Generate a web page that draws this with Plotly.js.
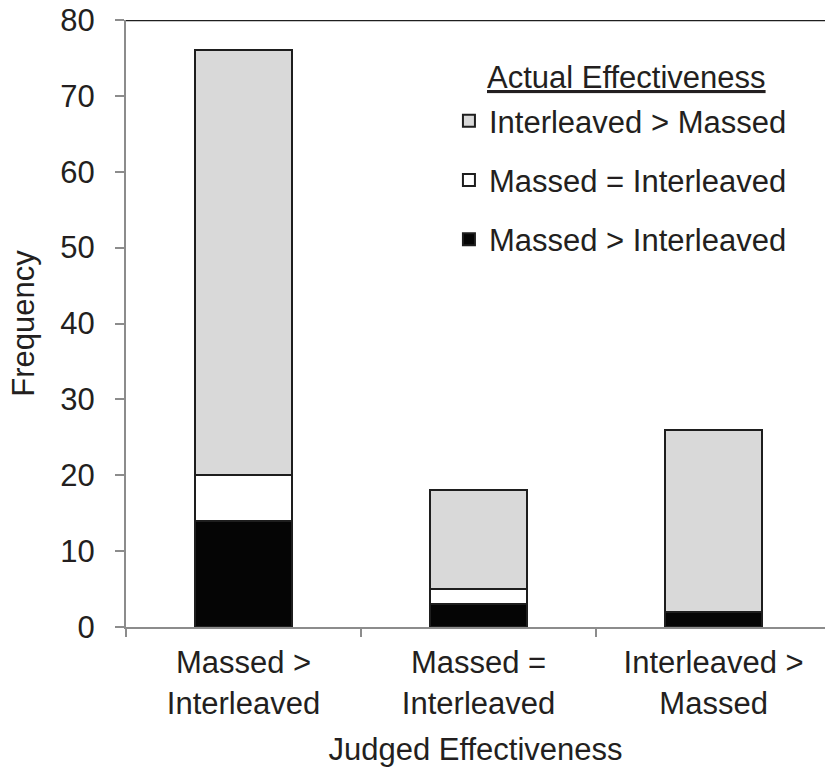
<!DOCTYPE html>
<html>
<head>
<meta charset="utf-8">
<script src="https://cdn.plot.ly/plotly-3.0.1.min.js"></script>
<style>html,body{margin:0;padding:0;background:#fff;}#chart{width:825px;height:767px;}</style>
</head>
<body>
<div id="chart"></div>
<script>
var categories = ['Massed ><br>Interleaved', 'Massed =<br>Interleaved', 'Interleaved ><br>Massed'];
var seriesNames = ['Massed > Interleaved', 'Massed = Interleaved', 'Interleaved > Massed'];
var legendTitle = 'Actual Effectiveness';
var massedBetter = [14, 3, 2];
var equalEff = [6, 2, 0];
var interleavedBetter = [56, 13, 24];
var yTicks = [0, 10, 20, 30, 40, 50, 60, 70, 80];

var FONT = 'Liberation Sans, Arial, Helvetica, sans-serif';
var FS = 31;
var TXT = '#231f20';
var lineCol = '#1e1e1e';

function bar(name, vals, fill, group, rank) {
  return {
    type: 'bar', name: name, x: categories, y: vals,
    legendgroup: group, legendrank: rank,
    marker: {color: fill, line: {color: lineCol, width: 2}},
    hoverinfo: 'skip'
  };
}

var data = [
  bar(seriesNames[0], massedBetter, '#050505', 'a', 3),
  bar(seriesNames[1], equalEff, '#ffffff', 'b', 2),
  bar(seriesNames[2], interleavedBetter, '#d9d9d9', 'c', 1)
];

var layout = {
  width: 825, height: 767,
  margin: {l: 126, r: 0, t: 20, b: 140},
  paper_bgcolor: '#fff', plot_bgcolor: '#fff',
  font: {family: FONT, size: FS, color: TXT},
  barmode: 'stack',
  bargap: 0.59,
  showlegend: true,
  legend: {
    x: 0.462, y: 0.878, xanchor: 'left', yanchor: 'top',
    traceorder: 'grouped',
    tracegroupgap: 16,
    bgcolor: 'rgba(0,0,0,0)',
    font: {family: FONT, size: FS, color: TXT}
  },
  annotations: [{
    text: '<u>' + legendTitle + '</u>', xref: 'paper', yref: 'paper',
    x: 0.716, y: 0.906, xanchor: 'center', yanchor: 'middle', showarrow: false,
    font: {family: FONT, size: FS, color: TXT}
  }],
  xaxis: {
    type: 'category',
    range: [-0.5, 2.474],
    showline: true, linecolor: '#8c8c8c', linewidth: 2,
    ticks: 'outside', tickson: 'boundaries', ticklen: 8, tickwidth: 2, tickcolor: '#8c8c8c',
    ticklabelstandoff: 7,
    showgrid: false, zeroline: false,
    tickfont: {family: FONT, size: FS, color: TXT},
    title: {text: 'Judged Effectiveness', font: {family: FONT, size: FS, color: TXT}, standoff: 25}
  },
  yaxis: {
    range: [0, 80],
    tickvals: yTicks,
    ticktext: yTicks.map(String),
    showline: true, linecolor: '#8c8c8c', linewidth: 2,
    ticks: 'outside', ticklen: 9, tickwidth: 2, tickcolor: '#8c8c8c',
    ticklabelstandoff: 14,
    showgrid: false, zeroline: false,
    tickfont: {family: FONT, size: FS, color: TXT},
    title: {text: 'Frequency', font: {family: FONT, size: FS, color: TXT}, standoff: 16}
  },
  shapes: [{
    type: 'line', xref: 'paper', yref: 'y', x0: 0, x1: 1, y0: 80, y1: 80,
    line: {color: lineCol, width: 2.5}
  }]
};

Plotly.newPlot('chart', data, layout, {displayModeBar: false, staticPlot: true});
</script>
</body>
</html>
